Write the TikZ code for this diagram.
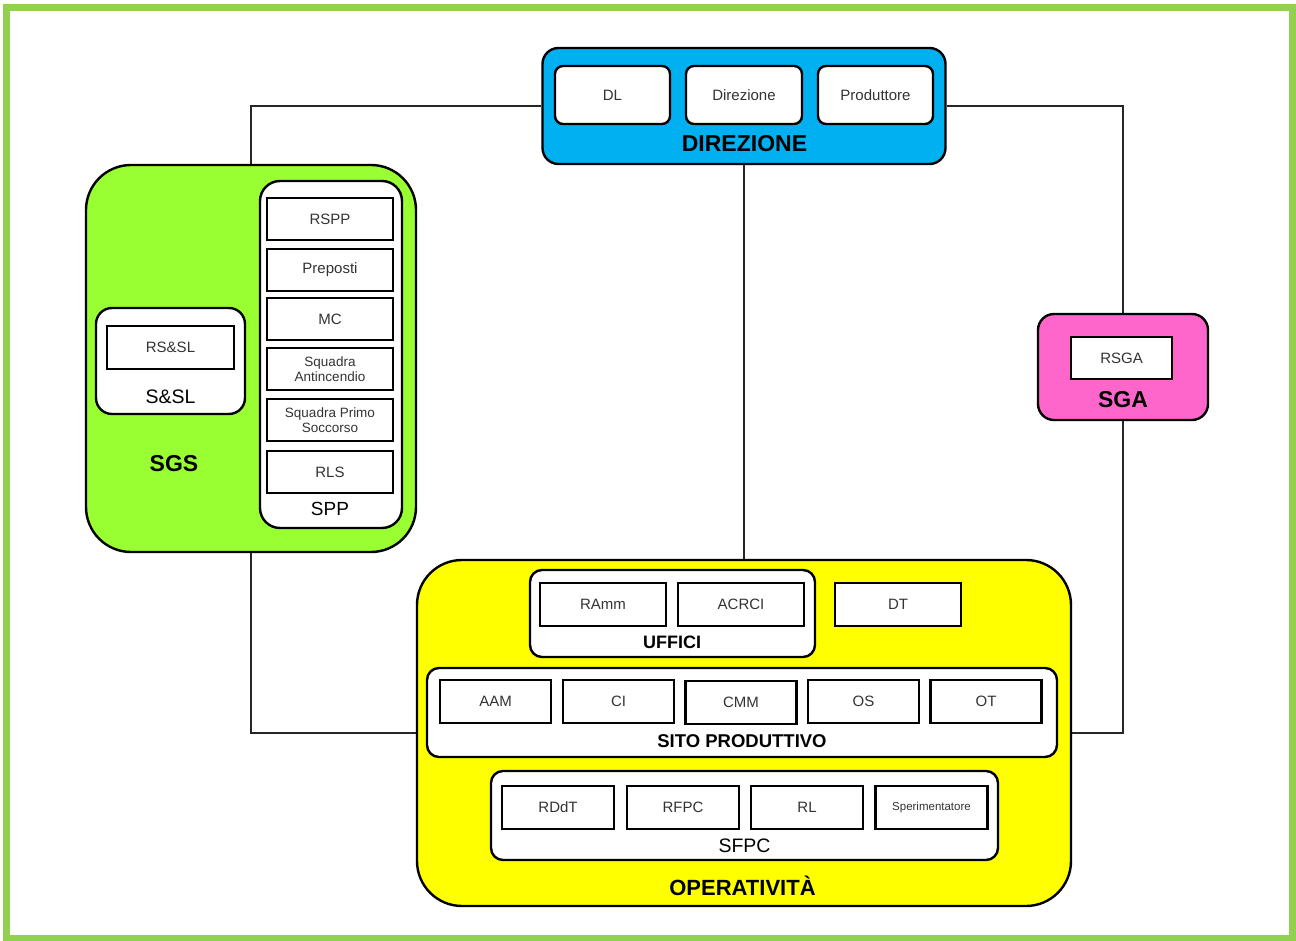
\documentclass[tikz,border=0pt]{standalone}
\usepackage{fontspec}
\setmainfont{Liberation Sans}
\usetikzlibrary{backgrounds}
\definecolor{framegreen}{RGB}{146,208,80}
\definecolor{dirblue}{RGB}{0,176,240}
\definecolor{sgsgreen}{RGB}{153,255,51}
\definecolor{sgapink}{RGB}{255,102,204}
\definecolor{opyellow}{RGB}{255,255,0}
\definecolor{txtgray}{RGB}{51,51,51}
\begin{document}
\begin{tikzpicture}[x=1pt,y=-1pt,
  group/.style={draw=black,line width=2.4pt,rounded corners=#1,inner sep=0pt,anchor=center},
  item/.style={draw=black,line width=2.4pt,fill=white,inner sep=0pt,anchor=center,
     minimum height=43pt,text=txtgray,font=\fontsize{15}{16}\selectfont,align=center},
  ritem/.style={item,rounded corners=8pt,minimum height=58pt},
  glabel/.style={font=\fontsize{#1}{#1}\selectfont\bfseries,text=black,inner sep=0pt,anchor=center},
  slabel/.style={font=\fontsize{#1}{#1}\selectfont,text=black,inner sep=0pt,anchor=center},
  conn/.style={draw=black!85,line width=1.6pt}
]
\useasboundingbox (0,0) rectangle (1296,941);
\draw[framegreen,line width=7pt] (6.5,7.5) rectangle (1292,938);

% DIREZIONE
\node[group=16pt,fill=dirblue,minimum width=403pt,minimum height=116pt] (dir) at (744,106) {};
\node[ritem,minimum width=115pt] (dl) at (612.5,95) {DL};
\node[ritem,minimum width=116pt] (dirz) at (744,95) {Direzione};
\node[ritem,minimum width=115pt] (prod) at (875.5,95) {Produttore};
\node[glabel=23] (dirlab) at (744.5,144) {DIREZIONE};

% SGS
\node[group=45pt,fill=sgsgreen,minimum width=330pt,minimum height=387pt] (sgs) at (251,358.5) {};
\node[group=20pt,fill=white,minimum width=142pt,minimum height=347pt] (spp) at (331,354.5) {};
\node[item,minimum width=126pt,minimum height=42pt] (rspp) at (330,219) {RSPP};
\node[item,minimum width=126pt,minimum height=42pt] (prep) at (330,270) {Preposti};
\node[item,minimum width=126pt,minimum height=42pt] (mc) at (330,319) {MC};
\node[item,minimum width=126pt,minimum height=42pt,font=\fontsize{13.5}{15.5}\selectfont] (sqa) at (330,369) {Squadra\\Antincendio};
\node[item,minimum width=126pt,minimum height=42pt,font=\fontsize{13.5}{15.5}\selectfont] (sqp) at (330,420) {Squadra Primo\\Soccorso};
\node[item,minimum width=126pt,minimum height=42pt] (rls) at (330,472) {RLS};
\node[slabel=19] (spplab) at (330,509) {SPP};
\node[group=16pt,fill=white,minimum width=149pt,minimum height=106pt] (ssl) at (170.5,361) {};
\node[item,minimum width=127pt] (rssl) at (170.5,347.5) {RS\&SL};
\node[slabel=19.5] (ssllab) at (170.5,397) {S\&SL};
\node[glabel=23] (sgslab) at (174,464) {SGS};

% SGA
\node[group=16pt,fill=sgapink,minimum width=170pt,minimum height=106pt] (sga) at (1123,367) {};
\node[item,minimum width=101pt,minimum height=42pt] (rsga) at (1121.5,358) {RSGA};
\node[glabel=23] (sgalab) at (1123,400) {SGA};

% OPERATIVITA
\node[group=45pt,fill=opyellow,minimum width=654pt,minimum height=346pt] (oper) at (744,733) {};
\node[group=12pt,fill=white,minimum width=285pt,minimum height=87pt] (uff) at (672.5,613.5) {};
\node[item,minimum width=126pt] (ramm) at (603,604.5) {RAmm};
\node[item,minimum width=126pt] (acrci) at (741,604.5) {ACRCI};
\node[slabel=18,font=\fontsize{18}{18}\selectfont\bfseries] (ufflab) at (672,642) {UFFICI};
\node[item,minimum width=126pt] (dt) at (898,604.5) {DT};

\node[group=12pt,fill=white,minimum width=630pt,minimum height=89pt] (sito) at (742,712.5) {};
\node[item,minimum width=111pt] (aam) at (495.5,701.5) {AAM};
\node[item,minimum width=111pt] (ci) at (618.5,701.5) {CI};
\node[item,minimum width=111pt] (cmm) at (741,702.5) {CMM};
\node[item,minimum width=111pt] (os) at (863.5,701.5) {OS};
\node[item,minimum width=111pt] (ot) at (986,701.5) {OT};
\node[glabel=18.5] (sitolab) at (742,741) {SITO PRODUTTIVO};

\node[group=12pt,fill=white,minimum width=507pt,minimum height=89pt] (sfpc) at (744.5,815.5) {};
\node[item,minimum width=112pt] (rddt) at (558,807.5) {RDdT};
\node[item,minimum width=112pt] (rfpc) at (683,807.5) {RFPC};
\node[item,minimum width=112pt] (rl) at (807,807.5) {RL};
\node[item,minimum width=112pt,font=\fontsize{11.5}{12}\selectfont] (sper) at (931.5,807.5) {Sperimentatore};
\node[slabel=19.5] (sfpclab) at (744.5,846) {SFPC};
\node[glabel=22] (oplab) at (742.5,886) {OPERATIVITÀ};

% connectors
\begin{scope}[on background layer]
\draw[conn] (dir.west) -| (sgs.north);
\draw[conn] (dir.east) -| (sga.north);
\draw[conn] (dir.south) -- (dir.south |- oper.north);
\draw[conn] (sgs.south) |- (oper.west);
\draw[conn] (sga.south) |- (oper.east);
\end{scope}
\end{tikzpicture}
\end{document}
